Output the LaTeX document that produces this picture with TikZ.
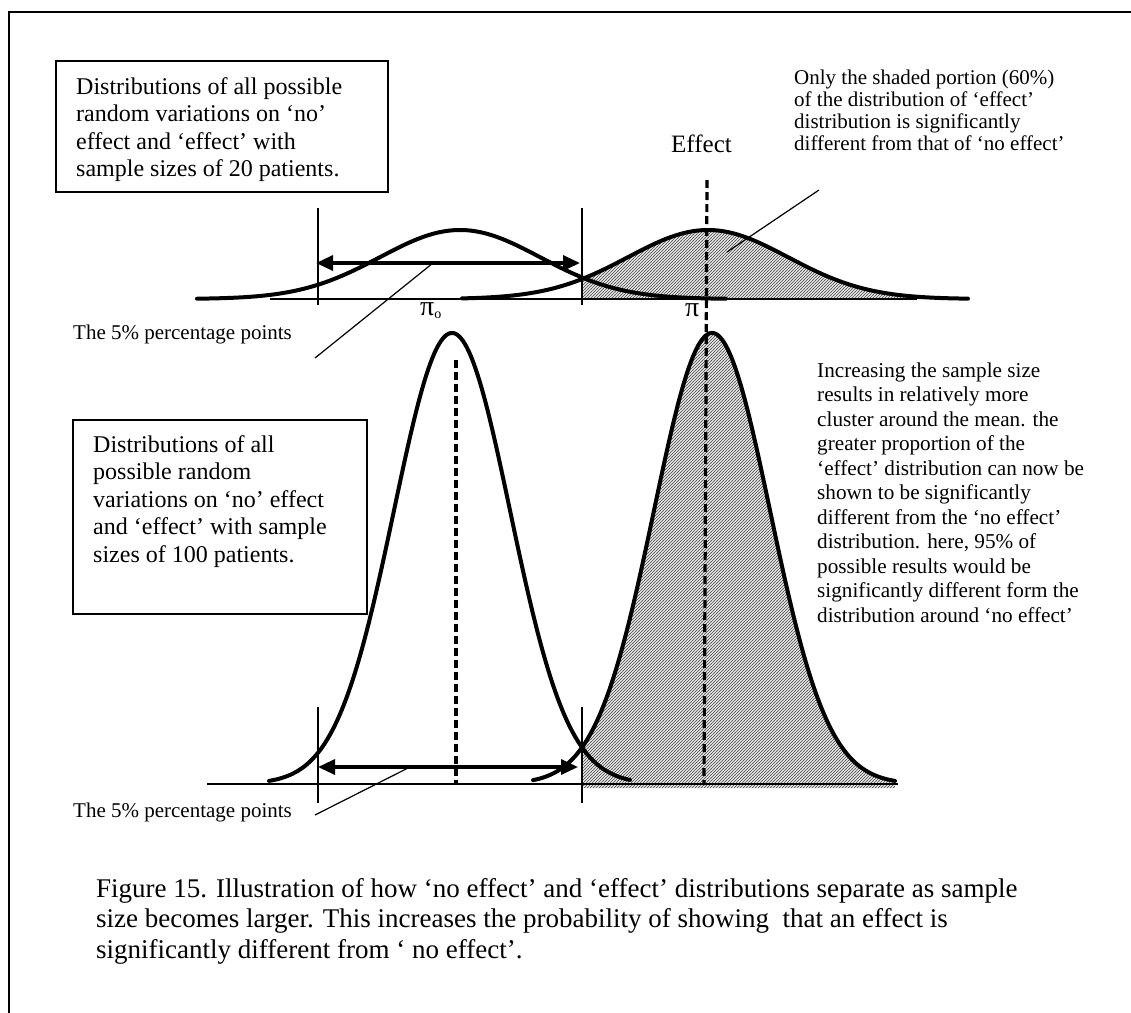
\documentclass[tikz,border=0pt]{standalone}
\usepackage{fontspec}
\setmainfont{Liberation Serif}
\usetikzlibrary{arrows.meta,patterns.meta}
\tikzdeclarepattern{name=finehatch, type=uncolored,
  bottom left={(-.5pt,-.5pt)}, top right={(3.5pt,3.5pt)}, tile size={(3pt,3pt)},
  code={\draw[line width=.4pt] (-.5pt,-.5pt) -- (3.5pt,3.5pt);}}
\newcommand{\tstr}[1]{\rule{0pt}{#1}}
\begin{document}
\begin{tikzpicture}[x=1pt,y=-1pt,
  curve/.style={line width=4pt, line cap=round},
  axisline/.style={line width=1.3pt},
  tick/.style={line width=1.6pt},
  dashline/.style={line width=3.2pt, dash pattern=on 8pt off 4pt},
  bigarrow/.style={line width=3.3pt, {Triangle[length=17pt,width=15pt]}-{Triangle[length=17pt,width=15pt]}},
  leader/.style={line width=1.2pt},
  frameline/.style={line width=1.7pt},
  boxnode/.style={draw, line width=1.7pt, anchor=north west, inner sep=0pt},
  txt/.style={inner sep=0pt, anchor=north west, align=left},
  lbl/.style={inner sep=0pt, anchor=base west},
  hatch/.style={pattern=finehatch, pattern color=black!70}]
\useasboundingbox (0,0) rectangle (1131,1012);
\fill[white] (0,0) rectangle (1131,1012);

% outer frame
\draw[frameline] (1140,12) -- (9,12) -- (9,1020);

% ---------- top (n = 20) ----------
\fill[gray!15] plot[domain=582:968, samples=120] (\x,{299-69*exp(-0.5*((\x-708)/80)*((\x-708)/80))}) -- (968,299) -- (582,299) -- cycle;
\fill[hatch] plot[domain=582:968, samples=120] (\x,{299-69*exp(-0.5*((\x-708)/80)*((\x-708)/80))}) -- (968,299) -- (582,299) -- cycle;
\draw[axisline] (270,299) -- (917,299);
\coordinate (t1a) at (318,208); \coordinate (t1b) at (318,305);
\coordinate (t2a) at (582,208); \coordinate (t2b) at (582,305);
\draw[tick] (t1a) -- (t1b);
\draw[tick] (t2a) -- (t2b);
\draw[curve] plot[domain=197:726, samples=150] (\x,{299-69*exp(-0.5*((\x-460)/80)*((\x-460)/80))});
\draw[curve] plot[domain=462:968, samples=150] (\x,{299-69*exp(-0.5*((\x-708)/80)*((\x-708)/80))});
\coordinate (ta) at (316,263); \coordinate (tb) at (580,263);
\draw[bigarrow] (ta) -- (tb);

% ---------- bottom (n = 100) ----------
\fill[gray!15] plot[domain=582:895, samples=120] (\x,{784-451*exp(-0.5*((\x-712)/58)*((\x-712)/58))}) -- (895,788) -- (582,788) -- cycle;
\fill[hatch] plot[domain=582:895, samples=120] (\x,{784-451*exp(-0.5*((\x-712)/58)*((\x-712)/58))}) -- (895,788) -- (582,788) -- cycle;
\draw[axisline] (207,784) -- (898,784);
\coordinate (b1a) at (318,707); \coordinate (b1b) at (318,803);
\coordinate (b2a) at (582,707); \coordinate (b2b) at (582,803);
\draw[tick] (b1a) -- (b1b);
\draw[tick] (b2a) -- (b2b);
\draw[curve] plot[domain=269:630, samples=200] (\x,{784-451*exp(-0.5*((\x-452)/58)*((\x-452)/58))});
\draw[curve] plot[domain=533:895, samples=200] (\x,{784-451*exp(-0.5*((\x-712)/58)*((\x-712)/58))});
\coordinate (ba) at (318,767); \coordinate (bb) at (578,767);
\draw[bigarrow] (ba) -- (bb);

% dashed mean lines
\coordinate (d0a) at (456,360); \coordinate (d0b) at (456,784);
\coordinate (d1a) at (707,180); \coordinate (d1b) at (704,785);
\draw[dashline] (d0a) -- (d0b);
\draw[dashline] (d1a) -- (d1b);

% leaders
\coordinate (l1a) at (433,263); \coordinate (l1b) at (315,358);
\coordinate (l2a) at (410,767); \coordinate (l2b) at (315,815);
\coordinate (l3a) at (819,190); \coordinate (l3b) at (727,252);
\draw[leader] (l1a) -- (l1b);
\draw[leader] (l2a) -- (l2b);
\draw[leader] (l3a) -- (l3b);

% boxes
\node[boxnode, minimum width=332pt, minimum height=131pt] (box1) at (55,60) {};
\node[boxnode, minimum width=294pt, minimum height=194pt] (box2) at (72,419) {};
\node[txt, font=\fontsize{24}{27.5}\selectfont] (box1txt) at (76,74.8)
  {\tstr{19.2pt}Distributions of all possible\\random variations on ‘no’\\effect and ‘effect’ with\\sample sizes of 20 patients.};
\node[txt, font=\fontsize{24}{27.5}\selectfont] (box2txt) at (93,432.8)
  {\tstr{19.2pt}Distributions of all\\possible random\\variations on ‘no’ effect\\and ‘effect’ with sample\\sizes of 100 patients.};

% labels
\node[lbl, font=\fontsize{25}{25}\selectfont] (eff) at (671,152) {Effect};
\node[lbl, font=\fontsize{28}{28}\selectfont] (pi0) at (420,315) {π\raisebox{-3pt}{\fontsize{14}{14}\selectfont o}};
\node[lbl, font=\fontsize{28}{28}\selectfont] (pi1) at (685,316) {π};
\node[lbl, font=\fontsize{21}{21}\selectfont] (pp1) at (73,339) {The 5\% percentage points};
\node[lbl, font=\fontsize{21}{21}\selectfont] (pp2) at (73,817) {The 5\% percentage points};

\node[txt, font=\fontsize{21}{22}\selectfont] (note1) at (794,67.2)
  {\tstr{16.8pt}Only the shaded portion (60\%)\\of the distribution of ‘effect’\\distribution is significantly\\different from that of ‘no effect’};
\node[txt, font=\fontsize{21.2}{24.5}\selectfont] (note2) at (817,360)
  {\tstr{17pt}Increasing the sample size\\results in relatively more\\cluster around the mean. the\\greater proportion of the\\‘effect’ distribution can now be\\shown to be significantly\\different from the ‘no effect’\\distribution. here, 95\% of\\possible results would be\\significantly different form the\\distribution around ‘no effect’};

\node[txt, font=\fontsize{27}{30.5}\selectfont] (caption) at (96,875.4)
  {\tstr{21.6pt}Figure 15. Illustration of how ‘no effect’ and ‘effect’ distributions separate as sample\\size becomes larger. This increases the probability of showing\ \ that an effect is\\significantly different from ‘ no effect’.};
\end{tikzpicture}
\end{document}
